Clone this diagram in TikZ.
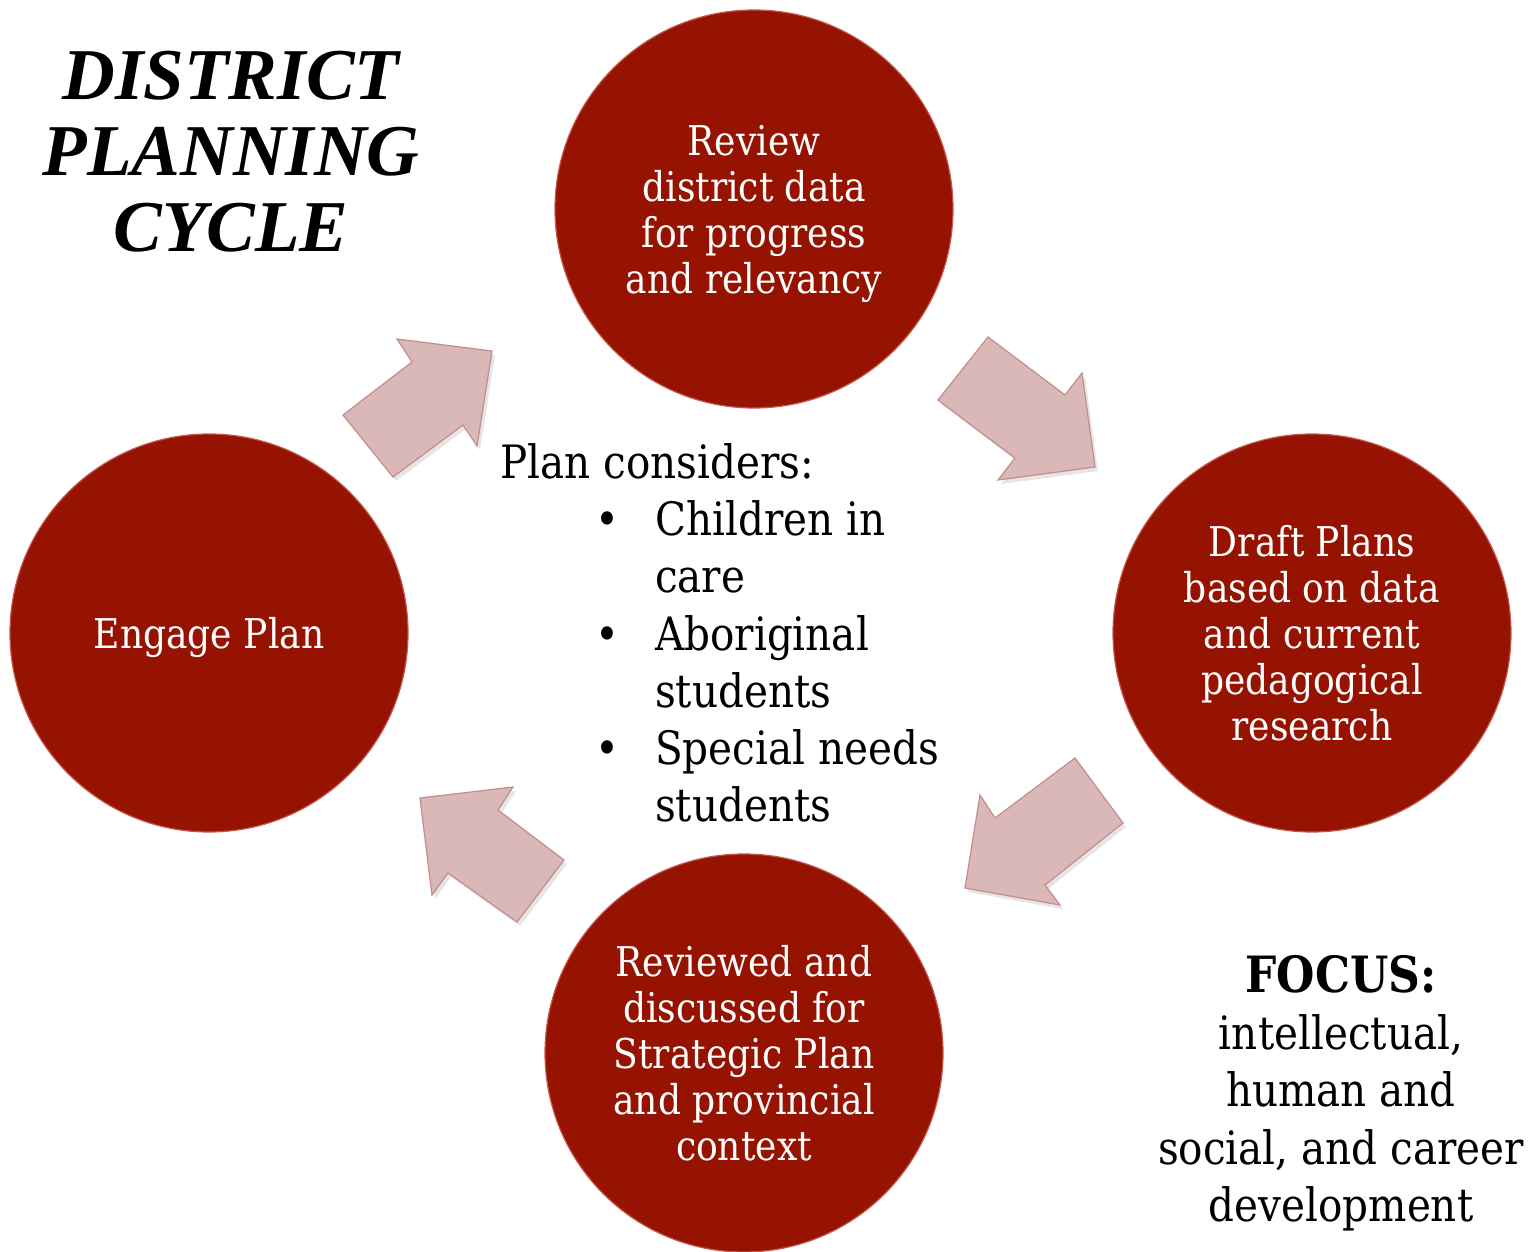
\documentclass[tikz,border=0pt]{standalone}
\usepackage{fontspec}
\setmainfont{DejaVu Serif}[FakeStretch=0.88]
\newfontfamily\titlefont{Liberation Serif}
\definecolor{circfill}{RGB}{150,19,2}
\definecolor{circedge}{RGB}{196,86,74}
\definecolor{arrfill}{RGB}{217,184,183}
\definecolor{arredge}{RGB}{196,140,138}
\tikzset{
  stage/.style={circle, minimum size=398pt, inner sep=0pt, fill=circfill, draw=circedge, line width=1.2pt,
    text=white, align=center, font=\fontsize{41}{46}\selectfont},
  blockarrow/.style={fill=arrfill, draw=arredge, line width=1.2pt, line join=miter},
  arrowshadow/.style={fill=black, opacity=0.10, draw=none},
  bodytext/.style={inner sep=0pt, font=\fontsize{46}{57.3}\selectfont},
}
\begin{document}
\begin{tikzpicture}[x=1pt,y=-1pt]
\useasboundingbox (0,0) rectangle (1540,1252);
\fill[white] (0,0) rectangle (1540,1252);

% title
\node[inner sep=0pt, align=center, anchor=north, font=\titlefont\bfseries\itshape\fontsize{73}{76}\selectfont] (title) at (231,51) {DISTRICT\\PLANNING\\CYCLE};

% stages
\node[stage] (review) at (754,209) {\rule{0pt}{41pt}Review\\district data\\for progress\\and relevancy};
\node[stage] (draft) at (1312,633) {Draft Plans\\based on data\\and current\\pedagogical\\research};
\node[stage] (discuss) at (744,1053) {Reviewed and\\discussed for\\Strategic Plan\\and provincial\\context};
\node[stage] (engage) at (209,633) {\rule{0pt}{41pt}Engage Plan};

% block arrows: shadows
\begin{scope}[shift={(3,4)}]
\fill[arrowshadow] (397,339) -- (492,351) -- (477,446) -- (463,425) -- (393,477) -- (343,415) -- (412,362) -- cycle;
\fill[arrowshadow] (988,337) -- (1065,395) -- (1082,373) -- (1095,467) -- (998,480) -- (1015,458) -- (938,400) -- cycle;
\fill[arrowshadow] (1075,758) -- (1123,823) -- (1045,885) -- (1060,905) -- (965,888) -- (980,795) -- (995,818) -- cycle;
\fill[arrowshadow] (420,798) -- (513,787) -- (498,810) -- (564,860) -- (517,922) -- (448,873) -- (432,895) -- cycle;
\end{scope}
% block arrows
\draw[blockarrow] (397,339) -- (492,351) -- (477,446) -- (463,425) -- (393,477) -- (343,415) -- (412,362) -- cycle;
\draw[blockarrow] (988,337) -- (1065,395) -- (1082,373) -- (1095,467) -- (998,480) -- (1015,458) -- (938,400) -- cycle;
\draw[blockarrow] (1075,758) -- (1123,823) -- (1045,885) -- (1060,905) -- (965,888) -- (980,795) -- (995,818) -- cycle;
\draw[blockarrow] (420,798) -- (513,787) -- (498,810) -- (564,860) -- (517,922) -- (448,873) -- (432,895) -- cycle;

% center text
\node[bodytext, anchor=north west, align=left] (considers) at (500,443) {%
Plan considers:\\
\hspace*{95pt}\makebox[60pt][l]{•}Children in\\
\hspace*{155pt}care\\
\hspace*{95pt}\makebox[60pt][l]{•}Aboriginal\\
\hspace*{155pt}students\\
\hspace*{95pt}\makebox[60pt][l]{•}Special needs\\
\hspace*{155pt}students};

% focus
\node[bodytext, anchor=north, align=center] (focus) at (1341,955) {{\fontsize{50}{57.3}\selectfont\textbf{FOCUS:}}\\intellectual,\\human and\\social, and career\\development};
\end{tikzpicture}
\end{document}
